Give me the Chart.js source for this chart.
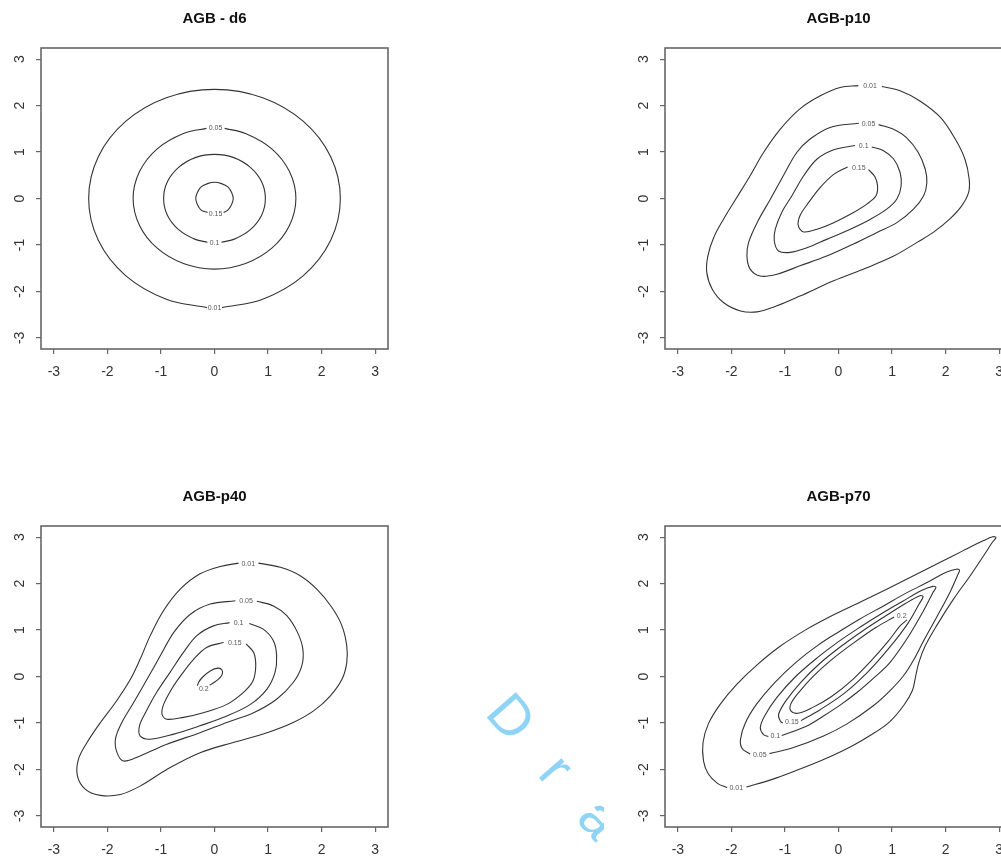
<!DOCTYPE html>
<html>
<head>
<meta charset="utf-8">
<script src="https://cdn.jsdelivr.net/npm/chart.js@4.4.0/dist/chart.umd.min.js"></script>
<style>
  html, body { margin: 0; padding: 0; background: #fff; overflow: hidden; width: 1001px; height: 859px; }
  canvas { position: absolute; background: #fff; z-index: 1; }
  #mark { position: absolute; left: 523px; top: 680px; transform-origin: 0 0; transform: rotate(49deg);
          font: 56px "Liberation Sans", Arial, sans-serif; letter-spacing: 40px; color: #8fd4f5;
          z-index: 0; white-space: nowrap; }
</style>
</head>
<body>
<div id="mark">Draft</div>
<canvas id="c1" width="430" height="400" style="left:0px;top:0px"></canvas>
<canvas id="c2" width="450" height="400" style="left:604px;top:0px"></canvas>
<canvas id="c3" width="430" height="400" style="left:0px;top:478px"></canvas>
<canvas id="c4" width="450" height="400" style="left:604px;top:478px"></canvas>
<script>
// axis ticks (both axes)
var axisTicks = [-3, -2, -1, 0, 1, 2, 3];
var levels = ["0.01", "0.05", "0.1", "0.15", "0.2"];

// AGB - d6 contours, [x, y]
var d6_001 = [[0.14,-2.35],[0.90,-2.17],[1.66,-1.66],[2.17,-0.90],[2.35,0],[2.17,0.90],[1.66,1.66],[0.90,2.17],[0,2.35],[-0.90,2.17],[-1.66,1.66],[-2.17,0.90],[-2.35,0],[-2.17,-0.90],[-1.66,-1.66],[-0.90,-2.17],[-0.14,-2.35]];
var d6_005 = [[-0.15,1.51],[-0.58,1.40],[-1.07,1.07],[-1.40,0.58],[-1.52,0],[-1.40,-0.58],[-1.07,-1.07],[-0.58,-1.40],[0,-1.52],[0.58,-1.40],[1.07,-1.07],[1.40,-0.58],[1.52,0],[1.40,0.58],[1.07,1.07],[0.58,1.40],[0.19,1.51]];
var d6_01 = [[0.13,-0.94],[0.36,-0.88],[0.67,-0.67],[0.88,-0.36],[0.95,0],[0.88,0.36],[0.67,0.67],[0.36,0.88],[0,0.95],[-0.36,0.88],[-0.67,0.67],[-0.88,0.36],[-0.95,0],[-0.88,-0.36],[-0.67,-0.67],[-0.36,-0.88],[-0.13,-0.94]];
var d6_015 = [[0.17,-0.30],[0.25,-0.25],[0.32,-0.13],[0.35,0],[0.32,0.13],[0.25,0.25],[0.13,0.32],[0,0.35],[-0.13,0.32],[-0.25,0.25],[-0.32,0.13],[-0.35,0],[-0.32,-0.13],[-0.25,-0.25],[-0.13,-0.30]];
var d6_labelPos = [[0.0,-2.35],[0.02,1.52],[0.0,-0.95],[0.02,-0.33]];

// AGB-p10
var p10_001 = [[0.81,2.41],[1.15,2.32],[1.52,2.10],[1.90,1.75],[2.18,1.28],[2.36,0.85],[2.44,0.42],[2.43,0.13],[2.30,-0.16],[2.08,-0.44],[1.77,-0.73],[1.46,-0.95],[1.03,-1.24],[0.53,-1.49],[-0.09,-1.77],[-0.72,-2.10],[-1.15,-2.31],[-1.52,-2.44],[-1.83,-2.42],[-2.15,-2.24],[-2.36,-1.95],[-2.46,-1.59],[-2.44,-1.24],[-2.33,-0.84],[-2.15,-0.45],[-1.90,0.02],[-1.65,0.49],[-1.40,0.99],[-1.09,1.49],[-0.72,1.93],[-0.34,2.21],[0.03,2.39],[0.37,2.43]];
var p10_005 = [[0.75,1.59],[1.03,1.49],[1.27,1.31],[1.49,0.99],[1.62,0.63],[1.65,0.34],[1.59,0.06],[1.40,-0.23],[1.09,-0.52],[0.72,-0.73],[0.28,-0.98],[-0.22,-1.24],[-0.72,-1.45],[-1.15,-1.63],[-1.46,-1.67],[-1.65,-1.52],[-1.71,-1.24],[-1.68,-0.95],[-1.52,-0.52],[-1.27,-0.01],[-1.03,0.49],[-0.78,0.99],[-0.53,1.28],[-0.16,1.53],[0.38,1.62]];
var p10_01 = [[0.62,1.11],[0.84,1.03],[1.03,0.85],[1.15,0.56],[1.17,0.27],[1.09,-0.01],[0.90,-0.23],[0.59,-0.45],[0.22,-0.66],[-0.22,-0.88],[-0.59,-1.06],[-0.90,-1.16],[-1.12,-1.13],[-1.20,-0.91],[-1.18,-0.66],[-1.06,-0.30],[-0.87,0.06],[-0.65,0.49],[-0.40,0.85],[-0.09,1.05],[0.31,1.14]];
var p10_015 = [[0.56,0.62],[0.68,0.47],[0.73,0.27],[0.70,0.06],[0.53,-0.12],[0.28,-0.30],[-0.09,-0.52],[-0.40,-0.66],[-0.65,-0.72],[-0.75,-0.59],[-0.72,-0.37],[-0.56,-0.09],[-0.34,0.24],[-0.09,0.52],[0.17,0.68]];
var p10_labelPos = [[0.59,2.42],[0.56,1.61],[0.47,1.12],[0.38,0.66]];

// AGB-p40
var p40_001 = [[0.82,2.44],[1.23,2.35],[1.60,2.17],[1.91,1.88],[2.19,1.49],[2.38,1.09],[2.47,0.66],[2.47,0.30],[2.38,-0.06],[2.16,-0.42],[1.85,-0.74],[1.47,-0.99],[0.98,-1.21],[0.35,-1.42],[-0.27,-1.64],[-0.89,-2.00],[-1.39,-2.36],[-1.76,-2.54],[-2.13,-2.56],[-2.41,-2.43],[-2.56,-2.14],[-2.54,-1.78],[-2.38,-1.42],[-2.13,-0.99],[-1.85,-0.56],[-1.57,-0.06],[-1.39,0.37],[-1.20,0.88],[-0.95,1.42],[-0.64,1.88],[-0.27,2.21],[0.11,2.37],[0.45,2.44]];
var p40_005 = [[0.79,1.62],[1.10,1.52],[1.35,1.31],[1.55,0.95],[1.65,0.59],[1.63,0.23],[1.47,-0.13],[1.16,-0.49],[0.73,-0.78],[0.23,-0.99],[-0.27,-1.21],[-0.89,-1.46],[-1.39,-1.71],[-1.70,-1.82],[-1.82,-1.64],[-1.85,-1.35],[-1.73,-0.99],[-1.51,-0.56],[-1.26,-0.06],[-1.01,0.45],[-0.76,0.95],[-0.45,1.34],[-0.08,1.56],[0.39,1.63]];
var p40_01 = [[0.65,1.14],[0.91,1.02],[1.10,0.77],[1.16,0.45],[1.13,0.09],[0.98,-0.27],[0.67,-0.60],[0.23,-0.85],[-0.27,-1.06],[-0.76,-1.24],[-1.20,-1.35],[-1.39,-1.28],[-1.40,-1.06],[-1.29,-0.78],[-1.08,-0.34],[-0.83,0.09],[-0.58,0.52],[-0.33,0.88],[-0.02,1.09],[0.28,1.16]];
var p40_015 = [[0.59,0.70],[0.73,0.52],[0.77,0.23],[0.72,-0.09],[0.54,-0.34],[0.23,-0.60],[-0.21,-0.78],[-0.58,-0.88],[-0.89,-0.92],[-0.98,-0.81],[-0.95,-0.60],[-0.80,-0.27],[-0.61,0.05],[-0.39,0.37],[-0.14,0.63],[0.17,0.73]];
var p40_02 = [[-0.09,-0.19],[0.04,-0.09],[0.14,0.03],[0.14,0.14],[0.06,0.18],[-0.08,0.12],[-0.21,0.00],[-0.29,-0.11],[-0.32,-0.20]];
var p40_labelPos = [[0.63,2.43],[0.59,1.62],[0.45,1.14],[0.38,0.72],[-0.20,-0.26]];

// AGB-p70
var p70_001 = [[-1.72,-2.38],[-1.25,-2.22],[-0.80,-2.03],[-0.30,-1.80],[0.20,-1.53],[0.62,-1.25],[0.96,-0.97],[1.22,-0.62],[1.38,-0.30],[1.44,0.00],[1.50,0.30],[1.62,0.66],[1.83,1.09],[2.15,1.67],[2.46,2.17],[2.71,2.60],[2.88,2.90],[2.94,2.99],[2.88,3.01],[2.70,2.92],[2.33,2.71],[1.90,2.46],[1.40,2.17],[0.90,1.88],[0.40,1.60],[-0.09,1.33],[-0.59,1.02],[-1.09,0.65],[-1.52,0.25],[-1.90,-0.17],[-2.21,-0.60],[-2.43,-1.02],[-2.53,-1.42],[-2.52,-1.82],[-2.43,-2.10],[-2.26,-2.30],[-2.08,-2.39]];
var p70_005 = [[-1.29,-1.66],[-0.84,-1.53],[-0.28,-1.28],[0.16,-1.02],[0.65,-0.63],[0.95,-0.32],[1.21,0.01],[1.40,0.35],[1.59,0.77],[1.83,1.27],[2.08,1.81],[2.22,2.17],[2.26,2.29],[2.20,2.31],[2.00,2.24],[1.70,2.05],[1.27,1.80],[0.84,1.52],[0.40,1.24],[0.03,0.98],[-0.40,0.66],[-0.80,0.30],[-1.20,-0.14],[-1.52,-0.58],[-1.74,-1.00],[-1.83,-1.35],[-1.80,-1.55],[-1.65,-1.67]];
var p70_01 = [[-1.06,-1.27],[-0.60,-1.07],[-0.28,-0.85],[0.05,-0.60],[0.35,-0.34],[0.65,-0.04],[0.96,0.30],[1.30,0.85],[1.58,1.40],[1.76,1.80],[1.82,1.92],[1.76,1.94],[1.55,1.85],[1.20,1.62],[0.80,1.35],[0.40,1.06],[0.00,0.75],[-0.40,0.40],[-0.80,0.00],[-1.15,-0.45],[-1.38,-0.85],[-1.46,-1.10],[-1.40,-1.25],[-1.31,-1.29]];
var p70_015 = [[-0.70,-0.95],[-0.35,-0.72],[0.10,-0.37],[0.55,0.10],[0.95,0.62],[1.30,1.15],[1.50,1.55],[1.58,1.72],[1.52,1.74],[1.25,1.57],[0.85,1.28],[0.45,0.98],[0.05,0.65],[-0.35,0.28],[-0.70,-0.12],[-0.98,-0.52],[-1.12,-0.82],[-1.08,-0.97],[-1.04,-1.00]];
var p70_02 = [[1.04,1.28],[0.69,1.05],[0.29,0.73],[-0.11,0.38],[-0.46,0.02],[-0.74,-0.34],[-0.89,-0.59],[-0.89,-0.74],[-0.76,-0.79],[-0.49,-0.67],[-0.13,-0.43],[0.27,-0.06],[0.62,0.35],[0.93,0.76],[1.15,1.09],[1.28,1.22]];
var p70_labelPos = [[-1.91,-2.41],[-1.47,-1.69],[-1.18,-1.28],[-0.87,-0.99],[1.18,1.31]];

var FONT = '"Liberation Sans", Arial, Helvetica, sans-serif';

// box round the plot area, like R's box()
var plotBox = {
  id: "plotBox",
  afterDraw: function (chart) {
    var a = chart.chartArea, ctx = chart.ctx;
    ctx.save();
    ctx.strokeStyle = "#666";
    ctx.lineWidth = 1.6;
    ctx.strokeRect(a.left, a.top, a.right - a.left, a.bottom - a.top);
    ctx.restore();
  }
};

// small level labels sitting in the gaps of the contour lines
var contourLabels = {
  id: "contourLabels",
  afterDatasetsDraw: function (chart, args, opts) {
    var ctx = chart.ctx, x = chart.scales.x, y = chart.scales.y;
    ctx.save();
    ctx.font = "7px " + FONT;
    ctx.fillStyle = "#555";
    ctx.textAlign = "center";
    ctx.textBaseline = "middle";
    opts.pos.forEach(function (p, i) {
      ctx.fillText(levels[i], x.getPixelForValue(p[0]), y.getPixelForValue(p[1]));
    });
    ctx.restore();
  }
};

function makePanel(id, title, lines, labelPos, padLeft) {
  var datasets = lines.map(function (line) {
    return {
      data: line.map(function (p) { return { x: p[0], y: p[1] }; }),
      showLine: true,
      borderColor: "#333",
      borderWidth: 1.1,
      pointRadius: 0,
      tension: 0.35,
      fill: false
    };
  });
  var setTicks = function (axis) {
    axis.ticks = axisTicks.map(function (v) { return { value: v }; });
  };
  return new Chart(document.getElementById(id), {
    type: "scatter",
    data: { datasets: datasets },
    options: {
      responsive: false,
      animation: false,
      events: [],
      layout: { padding: { left: padLeft, right: 42, top: 0, bottom: 0 } },
      plugins: {
        legend: { display: false },
        tooltip: { enabled: false },
        title: {
          display: true,
          text: title,
          fullSize: false,
          color: "#111",
          font: { family: FONT, size: 15, weight: "bold", lineHeight: 1.2 },
          padding: { top: 10, bottom: 20 }
        },
        contourLabels: { pos: labelPos }
      },
      scales: {
        x: {
          type: "linear",
          min: -3.24,
          max: 3.24,
          afterBuildTicks: setTicks,
          afterFit: function (axis) { axis.height = 51; },
          border: { display: false },
          grid: { drawOnChartArea: false, drawTicks: true, tickLength: 5, color: "#666", lineWidth: 1.2 },
          ticks: { color: "#333", padding: 10, maxRotation: 0, font: { family: FONT, size: 14 } }
        },
        y: {
          type: "linear",
          min: -3.24,
          max: 3.24,
          afterBuildTicks: setTicks,
          afterFit: function (axis) { axis.width = 41; },
          border: { display: false },
          grid: { drawOnChartArea: false, drawTicks: true, tickLength: 5, color: "#666", lineWidth: 1.2 },
          ticks: { color: "#333", padding: 10, minRotation: 90, maxRotation: 90, crossAlign: "center", font: { family: FONT, size: 14 } }
        }
      }
    },
    plugins: [plotBox, contourLabels]
  });
}

makePanel("c1", "AGB - d6", [d6_001, d6_005, d6_01, d6_015], d6_labelPos, 0);
makePanel("c2", "AGB-p10", [p10_001, p10_005, p10_01, p10_015], p10_labelPos, 20);
makePanel("c3", "AGB-p40", [p40_001, p40_005, p40_01, p40_015, p40_02], p40_labelPos, 0);
makePanel("c4", "AGB-p70", [p70_001, p70_005, p70_01, p70_015, p70_02], p70_labelPos, 20);
</script>
</body>
</html>
